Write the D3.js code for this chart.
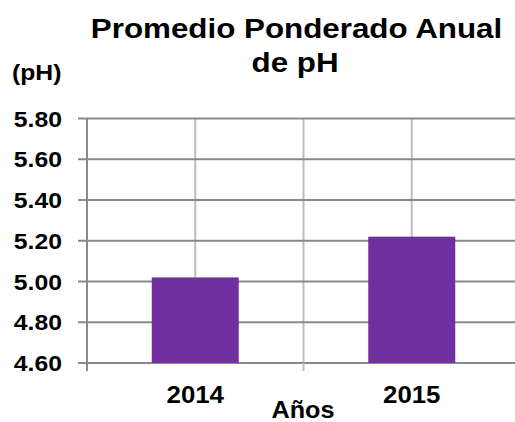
<!DOCTYPE html>
<html>
<head>
<meta charset="utf-8">
<script src="https://cdn.jsdelivr.net/npm/d3@7"></script>
<style>
  html, body { margin: 0; padding: 0; background: #fff; }
  svg { display: block; }
  text { font-family: "Liberation Sans", Arial, sans-serif; font-weight: bold; fill: #000; }
</style>
</head>
<body>
<svg id="chart" width="515" height="422"></svg>
<script>
const categories = ["2014", "2015"];
const values = [5.02, 5.22];
const yTicks = [4.6, 4.8, 5.0, 5.2, 5.4, 5.6, 5.8];
const titleLines = ["Promedio Ponderado Anual", "de pH"];
const yAxisLabel = "(pH)";
const xAxisLabel = "Años";

(function () {
const svg = d3.select("#chart");
const SX = 1.125;

const pLeft = 87, pRight = 520, pTop = 118.5, pBottom = 363;
const x = d3.scaleBand().domain(categories).range([pLeft, pRight]).padding(0);
const y = d3.scaleLinear().domain([4.6, 5.8]).range([pBottom, pTop]);

function stretchedText(g, txt, tx, ty, size, anchor, sx) {
  return g.append("text")
    .attr("transform", `translate(${tx},${ty}) scale(${sx || SX},1)`)
    .attr("text-anchor", anchor)
    .style("font-size", size + "px")
    .text(txt);
}

// vertical gridlines at band centres and boundaries
const vLines = [];
categories.forEach(c => { vLines.push(x(c) + x.bandwidth() / 2); vLines.push(x(c) + x.bandwidth()); });
svg.append("g").selectAll("line").data(vLines.filter(v => v < 515)).join("line")
  .attr("x1", d => d).attr("x2", d => d)
  .attr("y1", pTop).attr("y2", pBottom)
  .attr("stroke", "#bdbdbd").attr("stroke-width", 2);

// horizontal gridlines
svg.append("g").selectAll("line").data(yTicks).join("line")
  .attr("x1", pLeft - 9).attr("x2", 515)
  .attr("y1", d => y(d)).attr("y2", d => y(d))
  .attr("stroke", "#8a8a8a").attr("stroke-width", 2);

// bars
const bw = 87;
svg.append("g").selectAll("rect").data(values).join("rect")
  .attr("x", (d, i) => x(categories[i]) + x.bandwidth() / 2 - bw / 2)
  .attr("width", bw)
  .attr("y", d => y(d))
  .attr("height", d => y(4.6) - y(d))
  .attr("fill", "#7030a0");

// y axis line
svg.append("line")
  .attr("x1", pLeft).attr("x2", pLeft).attr("y1", pTop).attr("y2", pBottom + 8)
  .attr("stroke", "#8a8a8a").attr("stroke-width", 2);
// x tick marks at boundaries
svg.append("g").selectAll("line").data(categories.slice(0, -1)).join("line")
  .attr("x1", d => x(d) + x.bandwidth()).attr("x2", d => x(d) + x.bandwidth())
  .attr("y1", pBottom).attr("y2", pBottom + 8)
  .attr("stroke", "#bdbdbd").attr("stroke-width", 2);

// y tick labels
const fmt = d3.format(".2f");
yTicks.forEach(t => stretchedText(svg, fmt(t), 62, y(t) + 8, 22.5, "end", 1.1));

// category labels
categories.forEach(c => stretchedText(svg, c, x(c) + x.bandwidth() / 2, 403, 23.5, "middle", 1.1));

// axis titles
stretchedText(svg, xAxisLabel, 303, 418, 24, "middle", 1.05);
stretchedText(svg, yAxisLabel, 12, 80, 22.5, "start", 1.1);

// chart title
stretchedText(svg, titleLines[0], 296.5, 38.3, 28.5, "middle", 1.1);
stretchedText(svg, titleLines[1], 295, 72, 28.5, "middle", 1.1);
})();
</script>
</body>
</html>
